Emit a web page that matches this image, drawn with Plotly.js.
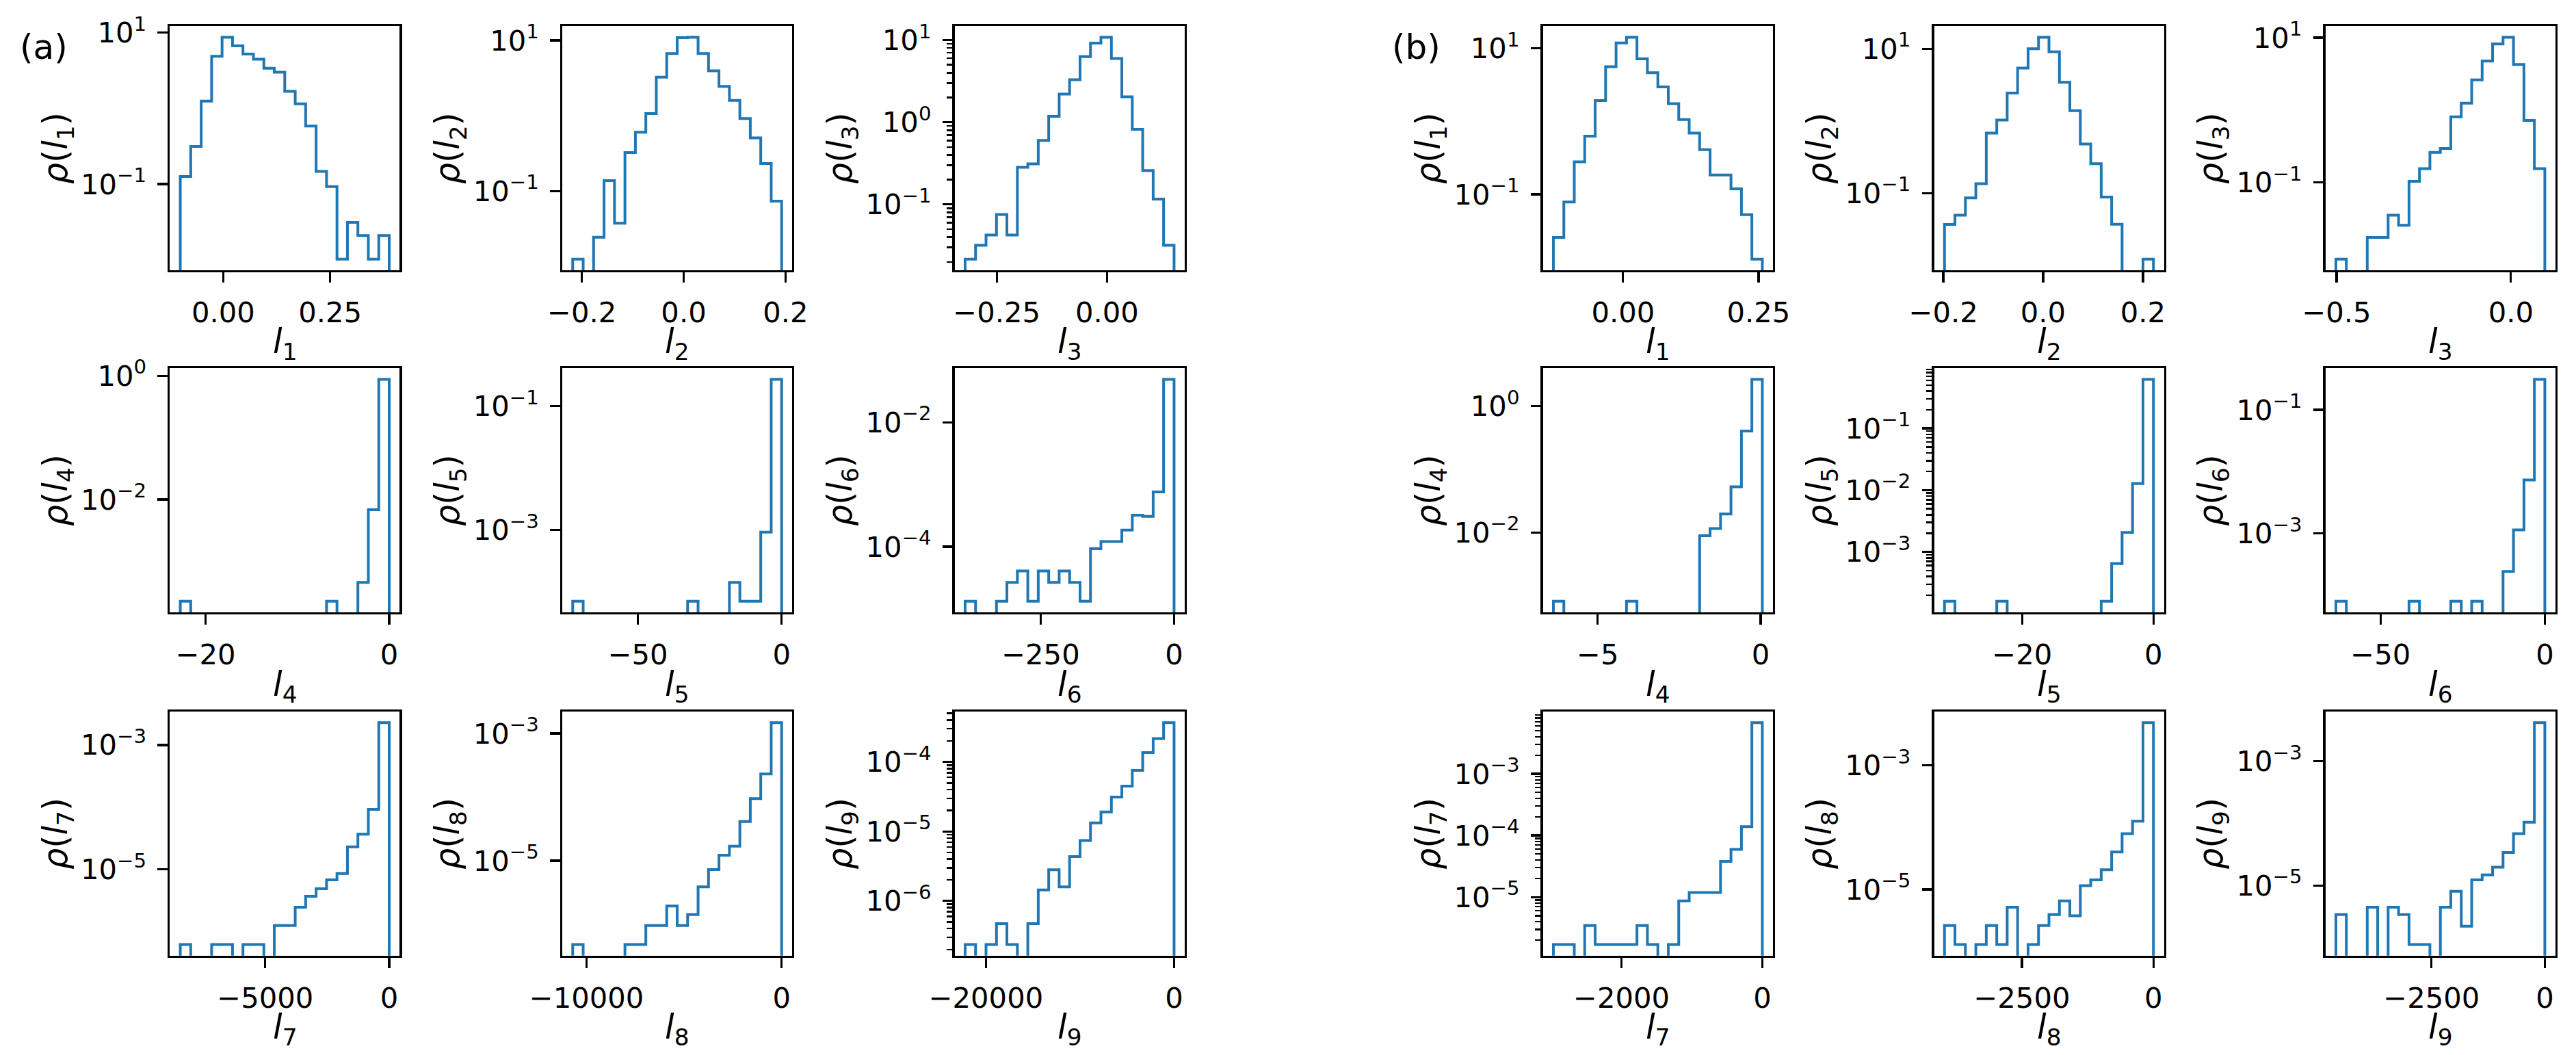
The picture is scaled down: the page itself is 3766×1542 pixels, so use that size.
<!DOCTYPE html>
<html>
<head>
<meta charset="utf-8">
<script src="https://cdn.plot.ly/plotly-3.0.1.min.js"></script>
<style>html,body{margin:0;padding:0;background:#fff;}#chart{width:3766px;height:1542px;}</style>
</head>
<body>
<div id="chart"></div>
<script>
// ---------- DATA ----------
// Panel order: a1..a9, b1..b9 ; each histogram has 20 equal-width bins between low and high edge
const panelNames = ["a1","a2","a3","a4","a5","a6","a7","a8","a9","b1","b2","b3","b4","b5","b6","b7","b8","b9"];
const lowEdge  = [-0.1007, -0.218, -0.3217, -22.76, -72.7, -391.6, -8426, -10709, -22213,
                  -0.1286, -0.1977, -0.502, -6.357, -31.83, -63.6, -2967, -3971, -4609];
const highEdge = [0.3885, 0.1924, 0.152, 0, 0, 0, 0, 0, 0,
                  0.257, 0.221, 0.0973, 0.05, 0, 0, 0, 0, 0];

const densA1 = [0.126,0.314,1.25,4.88,8.7,6.7,5.23,4.47,3.39,3.01,1.68,1.15,0.584,0.147,0.0927,0.0102,0.0312,0.0209,0.0102,0.0209];
const densA2 = [0.0125,0,0.0244,0.138,0.0375,0.324,0.605,1.07,3.26,6.68,10.9,11.0,6.68,3.94,2.45,1.60,0.92,0.509,0.232,0.0736];
const densA3 = [0.0216,0.0319,0.0425,0.0755,0.0425,0.283,0.312,0.601,1.18,2.20,3.29,6.28,9.2,10.8,5.96,2.04,0.822,0.258,0.116,0.0319];
const densA4 = [2.27e-4,0,0,0,0,0,0,0,0,0,0,0,0,0,2.27e-4,0,0,4.59e-4,6.84e-3,0.873];
const densA5 = [7.1e-5,0,0,0,0,0,0,0,0,0,0,7.1e-5,0,0,0,1.43e-4,7.1e-5,7.1e-5,9.27e-4,0.272];
const densA6 = [1.32e-5,0,0,1.32e-5,2.66e-5,4.06e-5,1.32e-5,4.06e-5,2.66e-5,4.06e-5,2.66e-5,1.32e-5,9.27e-5,1.21e-4,1.21e-4,1.85e-4,3.2e-4,3.07e-4,7.57e-4,0.0492];
const densA7 = [6.14e-7,0,0,6.14e-7,6.14e-7,0,6.14e-7,6.14e-7,0,1.24e-6,1.24e-6,2.44e-6,3.66e-6,4.85e-6,6.74e-6,8.53e-6,2.29e-5,3.66e-5,9.18e-5,2.29e-3];
const densA8 = [4.84e-7,0,0,0,0,4.84e-7,4.84e-7,9.64e-7,9.64e-7,1.95e-6,9.64e-7,1.43e-6,3.89e-6,7.26e-6,1.22e-5,1.70e-5,4.15e-5,9.46e-5,2.31e-4,1.48e-3];
const densA9 = [2.36e-7,0,2.36e-7,4.7e-7,2.36e-7,0,4.7e-7,1.44e-6,2.81e-6,1.59e-6,4.35e-6,7.39e-6,1.33e-5,1.91e-5,3.13e-5,4.5e-5,7.58e-5,1.36e-4,2.17e-4,3.68e-4];
const densB1 = [0.0256,0.0784,0.279,0.625,1.93,5.6,11.9,14.2,7.19,4.64,2.96,1.75,1.06,0.692,0.41,0.184,0.184,0.119,0.0525,0.0129];
const densB2 = [0.0369,0.0495,0.0859,0.1355,0.679,1.03,2.43,5.41,10.0,14.4,9.04,3.43,1.39,0.48,0.256,0.0885,0.0371,0,0,0.0122];
const densB3 = [0.00865,0,0,0.0173,0.0173,0.0351,0.0254,0.103,0.154,0.259,0.293,0.805,1.24,2.61,4.75,8.17,10.1,4.24,0.718,0.154];
const densB4 = [8.2e-4,0,0,0,0,0,0,8.2e-4,0,0,0,0,0,0,8.9e-3,0.0116,0.0196,0.0528,0.402,2.64];
const densB5 = [1.59e-4,0,0,0,0,1.59e-4,0,0,0,0,0,0,0,0,0,1.59e-4,6.49e-4,2.07e-3,0.0128,0.62];
const densB6 = [7.98e-5,0,0,0,0,0,0,7.98e-5,0,0,0,7.98e-5,0,7.98e-5,0,0,2.43e-4,1.14e-3,7.34e-3,0.312];
const densB7 = [1.7e-6,1.7e-6,0,3.46e-6,1.7e-6,1.7e-6,1.7e-6,1.7e-6,3.46e-6,1.7e-6,0,1.7e-6,8.67e-6,1.19e-5,1.19e-5,1.19e-5,3.8e-5,5.94e-5,1.39e-4,6.78e-3];
const densB8 = [2.63e-6,1.30e-6,0,1.30e-6,2.63e-6,1.30e-6,5.18e-6,0,1.30e-6,2.63e-6,3.94e-6,6.55e-6,3.77e-6,1.15e-5,1.43e-5,2.08e-5,4.02e-5,7.91e-5,1.26e-4,4.86e-3];
const densB9 = [3.4e-6,0,0,4.46e-6,0,4.46e-6,3.4e-6,1.12e-6,1.12e-6,0,4.46e-6,8.05e-6,2.2e-6,1.23e-5,1.48e-5,1.97e-5,3.4e-5,6.81e-5,1.04e-4,4.17e-3];
const densities = [densA1,densA2,densA3,densA4,densA5,densA6,densA7,densA8,densA9,
                   densB1,densB2,densB3,densB4,densB5,densB6,densB7,densB8,densB9];

// x tick values and labels
const xTickVals = [[0,0.25],[-0.2,0,0.2],[-0.25,0],[-20,0],[-50,0],[-250,0],[-5000,0],[-10000,0],[-20000,0],
                   [0,0.25],[-0.2,0,0.2],[-0.5,0],[-5,0],[-20,0],[-50,0],[-2000,0],[-2500,0],[-2500,0]];
const xTickText = [["0.00","0.25"],["\u22120.2","0.0","0.2"],["\u22120.25","0.00"],["\u221220","0"],["\u221250","0"],["\u2212250","0"],["\u22125000","0"],["\u221210000","0"],["\u221220000","0"],
                   ["0.00","0.25"],["\u22120.2","0.0","0.2"],["\u22120.5","0.0"],["\u22125","0"],["\u221220","0"],["\u221250","0"],["\u22122000","0"],["\u22122500","0"],["\u22122500","0"]];
// y (log) tick decades
const yTickExps = [[1,-1],[1,-1],[1,0,-1],[0,-2],[-1,-3],[-2,-4],[-3,-5],[-3,-5],[-4,-5,-6],
                   [1,-1],[1,-1],[1,-1],[0,-2],[-1,-2,-3],[-1,-3],[-3,-4,-5],[-3,-5],[-3,-5]];
const yMinorTicks = [false,false,true,false,false,false,false,false,true,
                     false,false,false,false,true,false,true,false,false];
const variableIndex = [1,2,3,4,5,6,7,8,9,1,2,3,4,5,6,7,8,9];
const panelLabels = ["(a)","(b)"];

// ---------- LAYOUT CONSTANTS ----------
const W = 3766, H = 1542;
const colLeft = [248.3, 822, 1395.7, 2255.7, 2827.5, 3399.7];
const panelW = 336;
const rowTop = [38.3, 538.3, 1040];
const panelH = 356.7;
const xTitleOffset = 108;   // px below the bottom spine (centre of the x title)
const FONT = "DejaVu Sans";
const tickFontSize = 41.7, labelFontSize = 49;
const lineColor = "#1f77b4";

function supExp(e){ return "10<sup>" + (e<0 ? "\u2212"+(-e) : e) + "</sup>"; }

const traces = [];
const layout = {
  width: W, height: H,
  margin: {l:0, r:0, t:0, b:0, pad:0},
  paper_bgcolor: "white", plot_bgcolor: "white",
  showlegend: false,
  font: {family: FONT, color: "black", size: tickFontSize},
  annotations: []
};

for (let p = 0; p < 18; p++) {
  const half = p < 9 ? 0 : 1;
  const k = p % 9;
  const row = Math.floor(k / 3), col = k % 3 + 3*half;
  const lo = lowEdge[p], hi = highEdge[p], d = densities[p];
  const n = d.length, w = (hi - lo) / n;
  const pos = d.filter(v => v > 0);
  const lmin = Math.log10(Math.min(...pos)), lmax = Math.log10(Math.max(...pos));
  const span = lmax - lmin;
  const yr = [lmin - 0.05*span, lmax + 0.05*span];
  const floorVal = Math.pow(10, yr[0] - 2);
  const xs = [lo], ys = [floorVal];
  for (let i = 0; i < n; i++) {
    const v = d[i] > 0 ? d[i] : floorVal;
    xs.push(lo + i*w, lo + (i+1)*w);
    ys.push(v, v);
  }
  xs.push(hi); ys.push(floorVal);
  const sfx = p === 0 ? "" : String(p+1);
  traces.push({
    type: "scatter", mode: "lines", x: xs, y: ys,
    xaxis: "x"+sfx, yaxis: "y"+sfx,
    line: {color: lineColor, width: 4, shape: "linear"},
    hoverinfo: "skip"
  });
  const xspan = hi - lo;
  const minorVals = [];
  for (let e = Math.floor(yr[0]); e <= Math.ceil(yr[1]); e++) {
    for (let m = 2; m <= 9; m++) {
      const v = m * Math.pow(10, e);
      const lv = Math.log10(v);
      if (lv >= yr[0] && lv <= yr[1]) minorVals.push(v);
    }
  }
  const vi = variableIndex[p];
  const commonAxis = {
    showline: true, linecolor: "black", linewidth: 3.3, mirror: true,
    ticks: "outside", ticklen: 14.6, tickwidth: 3.3, tickcolor: "black",
    showgrid: false, zeroline: false, automargin: false,
    tickfont: {family: FONT, size: tickFontSize, color: "black"},
    tickmode: "array", fixedrange: true
  };
  layout["xaxis"+sfx] = Object.assign({}, commonAxis, {
    domain: [colLeft[col]/W, (colLeft[col]+panelW)/W],
    anchor: "y"+sfx,
    range: [lo - 0.05*xspan, hi + 0.05*xspan],
    tickvals: xTickVals[p], ticktext: xTickText[p],
    ticklabelstandoff: 8
  });
  const yax = Object.assign({}, commonAxis, {
    domain: [1 - (rowTop[row]+panelH)/H, 1 - rowTop[row]/H],
    anchor: "x"+sfx,
    type: "log",
    range: yr,
    tickvals: yTickExps[p].map(e => Math.pow(10, e)),
    ticktext: yTickExps[p].map(supExp),
    ticklabelstandoff: 8,
    title: {text: "<i>\u03c1</i>(<i>l</i><sub>"+vi+"</sub>)", font: {family: FONT, size: labelFontSize, color: "black"}}
  });
  if (yMinorTicks[p]) {
    yax.minor = {tickmode: "array", tickvals: minorVals, ticks: "outside", ticklen: 8.3, tickwidth: 2.5, tickcolor: "black", showgrid: false};
  }
  layout["yaxis"+sfx] = yax;
  // x-axis title (placed as a paper annotation for exact spacing)
  layout.annotations.push({
    text: "<i>l</i><sub>"+vi+"</sub>", xref: "paper", yref: "paper",
    x: (colLeft[col] + panelW/2)/W, y: 1 - (rowTop[row] + panelH + xTitleOffset)/H,
    xanchor: "center", yanchor: "middle", showarrow: false,
    font: {family: FONT, size: labelFontSize, color: "black"}
  });
}

layout.annotations.push({text: panelLabels[0], xref: "paper", yref: "paper", x: 64/W, y: 1 - 69/H,
  xanchor: "center", yanchor: "middle", showarrow: false, font: {family: FONT, size: 50, color: "black"}});
layout.annotations.push({text: panelLabels[1], xref: "paper", yref: "paper", x: 2070/W, y: 1 - 69/H,
  xanchor: "center", yanchor: "middle", showarrow: false, font: {family: FONT, size: 50, color: "black"}});

Plotly.newPlot("chart", traces, layout, {staticPlot: true, displayModeBar: false});
</script>
</body>
</html>
